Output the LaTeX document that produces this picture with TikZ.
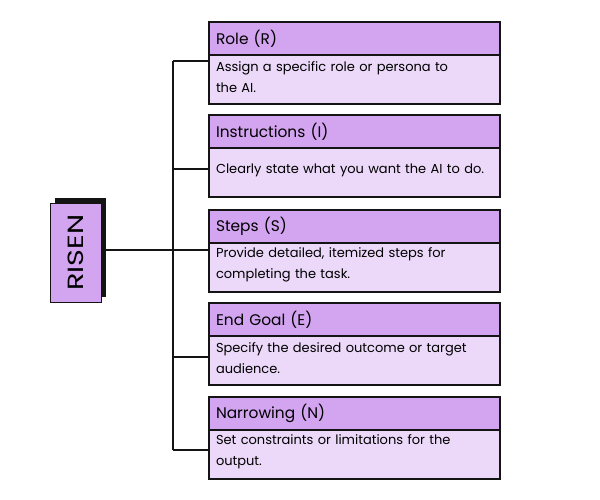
\documentclass[tikz,border=0pt]{standalone}
\usepackage{fontspec}
\setmainfont{Poppins}
\definecolor{hdrc}{RGB}{211,164,240}
\definecolor{bodyc}{RGB}{236,217,249}
\definecolor{edgec}{RGB}{20,20,20}
\tikzset{
  hdr/.style={draw=edgec, line width=2pt, fill=hdrc, anchor=north west,
    text width=277pt, inner xsep=7pt, inner ysep=0pt, minimum height=33pt,
    align=left, font=\fontsize{15.4}{18}\selectfont},
  bodybox/.style={draw=edgec, line width=2pt, fill=bodyc, anchor=north west,
    text width=277pt, inner xsep=7pt, inner ysep=0pt, minimum height=49pt,
    align=left, font=\fontsize{13}{21}\selectfont,
    execute at end node={\par\vspace{5pt}}},
  conn/.style={draw=edgec, line width=2.5pt},
  rootbox/.style={draw=edgec, line width=1pt, fill=hdrc, minimum width=51pt,
    minimum height=99pt, inner sep=0pt},
}
\begin{document}
\begin{tikzpicture}[x=1pt,y=-1pt]
\useasboundingbox[fill=white] (0,0) rectangle (600,500);
% root
\fill[edgec] (55,198) rectangle (106,297);
\node[rootbox] (root) at (75.5,252.5) {};
\node[rotate=90, font=\fontsize{22}{24}\selectfont] (rootlbl) at (root.center) {\scalebox{1.3}[1]{RISEN}};
% boxes
\node[hdr] (h1) at (208,21) {Role (R)};
\node[bodybox] (b1) at (208,54) {Assign a specific role or persona to\\the AI.};
\node[hdr] (h2) at (208,114) {Instructions (I)};
\node[bodybox] (b2) at (208,147) {Clearly state what you want the AI to do.};
\node[hdr] (h3) at (208,209) {Steps (S)};
\node[bodybox] (b3) at (208,242) {Provide detailed, itemized steps for\\completing the task.};
\node[hdr] (h4) at (208,302) {End Goal (E)};
\node[bodybox] (b4) at (208,335) {Specify the desired outcome or target\\audience.};
\node[hdr] (h5) at (208,396) {Narrowing (N)};
\node[bodybox] (b5) at (208,429) {Set constraints or limitations for the\\output.};
% trunk
\coordinate (j1) at (173,61);
\coordinate (j2) at (173,169);
\coordinate (j3) at (173,250);
\coordinate (j4) at (173,357);
\coordinate (j5) at (173,450);
\draw[conn] (j1) -- (j5);
\draw[conn] (j1) -- (j1 -| b1.west);
\draw[conn] (j2) -- (j2 -| b2.west);
\draw[conn] (root.east |- j3) -- (j3 -| b3.west);
\draw[conn] (j4) -- (j4 -| b4.west);
\draw[conn] (j5) -- (j5 -| b5.west);
\end{tikzpicture}
\end{document}
